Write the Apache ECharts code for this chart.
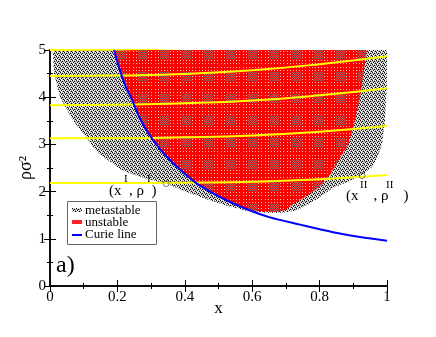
<!DOCTYPE html>
<html>
<head>
<meta charset="utf-8">
<script src="https://cdn.jsdelivr.net/npm/echarts@6/dist/echarts.min.js"></script>
<style>
  html, body { margin: 0; padding: 0; background: #fff; }
  #chart { width: 436px; height: 337px; }
</style>
</head>
<body>
<div id="chart"></div>
<script>
// outer boundary (metastable region)
var binodal = [[0.008, 5], [0.012, 4.5], [0.03, 4.0], [0.067, 3.52], [0.109, 3.13], [0.143, 2.82],
  [0.213, 2.46], [0.26, 2.33], [0.31, 2.23], [0.35, 2.16], [0.38, 2.06], [0.465, 1.84], [0.52, 1.71],
  [0.58, 1.6], [0.64, 1.55], [0.69, 1.55], [0.73, 1.6], [0.77, 1.74], [0.81, 1.93], [0.84, 2.08],
  [0.88, 2.2], [0.926, 2.34], [0.955, 2.52], [0.97, 2.7], [0.985, 3.0], [0.994, 3.5], [0.999, 4.2], [1.0, 5]];
// inner boundary (unstable region)
var spinodal = [[0.19, 5], [0.206, 4.6], [0.226, 4.2], [0.24, 4.0], [0.27, 3.5], [0.31, 3.05],
  [0.356, 2.67], [0.40, 2.38], [0.43, 2.2], [0.48, 1.98], [0.535, 1.78], [0.58, 1.64], [0.62, 1.575],
  [0.67, 1.57], [0.70, 1.61], [0.72, 1.72], [0.76, 1.9], [0.80, 2.1], [0.83, 2.35], [0.855, 2.65],
  [0.885, 3.0], [0.905, 3.5], [0.92, 4.0], [0.93, 4.5], [0.94, 5]];
var curie = [[0.19, 5], [0.206, 4.6], [0.226, 4.2], [0.24, 4.0], [0.27, 3.5], [0.31, 3.05],
  [0.356, 2.67], [0.40, 2.38], [0.43, 2.2], [0.48, 1.98], [0.535, 1.78], [0.59, 1.61], [0.65, 1.46],
  [0.742, 1.3], [0.84, 1.14], [0.92, 1.04], [1.0, 0.96]];
// yellow lines
var lineX = [0, 0.2, 0.4, 0.6, 0.8, 1];
var yel1 = [5.0, 5.01, 5.04, 5.1, 5.2, 5.35];
var yel2 = [4.45, 4.46, 4.49, 4.57, 4.7, 4.87];
var yel3 = [3.83, 3.84, 3.87, 3.93, 4.04, 4.19];
var yel4 = [3.13, 3.13, 3.15, 3.19, 3.27, 3.39];
var yel5 = [2.18, 2.18, 2.19, 2.21, 2.26, 2.35];
var coexist = [[0.345, 2.17], [0.926, 2.34]];

function makeGray() {
  var c = document.createElement('canvas');
  c.width = 4; c.height = 4;
  var ctx = c.getContext('2d');
  var rows = ['KWGW', 'GGKG', 'WKWG', 'GWGK'];
  var map = { K: '#000', W: '#fff', G: '#a8a8a8' };
  for (var y = 0; y < 4; y++) for (var x = 0; x < 4; x++) {
    ctx.fillStyle = map[rows[y][x]];
    ctx.fillRect(x, y, 1, 1);
  }
  return c;
}
function makeRed() {
  var c = document.createElement('canvas');
  c.width = 22; c.height = 22;
  var ctx = c.getContext('2d');
  ctx.fillStyle = '#ff0000';
  ctx.fillRect(0, 0, 22, 22);
  for (var y = 0; y < 22; y++) for (var x = 0; x < 22; x++) {
    var blk = x >= 6 && x < 15 && y >= 6 && y < 15;
    if (blk && (x + y) % 2 == 0) {
      ctx.fillStyle = '#a06868';
      ctx.fillRect(x, y, 1, 1);
    } else if (!blk && x % 3 == 1 && y % 3 == 1) {
      ctx.fillStyle = '#ffc0c0';
      ctx.fillRect(x, y, 1, 1);
    }
  }
  return c;
}
var grayPat = { image: makeGray(), repeat: 'repeat' };
var redPat = { image: makeRed(), repeat: 'repeat' };

function zip(xs, ys) { return xs.map(function (x, i) { return [x, ys[i]]; }); }

var serif = '"Liberation Serif", "DejaVu Serif", serif';
var chart = echarts.init(document.getElementById('chart'));

function yellow(ys) {
  return {
    type: 'line', data: zip(lineX, ys), smooth: true, symbol: 'none', z: 3,
    lineStyle: { color: '#ffff00', width: 2 }, silent: true
  };
}

var option = {
  animation: false,
  grid: { left: 50, right: 49, top: 50, bottom: 51 },
  xAxis: [{
    type: 'value', min: 0, max: 1, interval: 0.2,
    name: 'x', nameLocation: 'middle', nameGap: 14, nameMoveOverlap: false,
    nameTextStyle: { fontFamily: serif, fontSize: 17, color: '#000' },
    axisLine: { lineStyle: { color: '#000', width: 1.5 } },
    axisTick: { inside: true, length: 6, lineStyle: { color: '#000' } },
    minorTick: { show: true, splitNumber: 2, length: 3, lineStyle: { color: '#000' } },
    axisLabel: { fontFamily: serif, fontSize: 15, color: '#000', margin: 4 },
    splitLine: { show: false }
  }, {
    type: 'value', min: 0, max: 1, interval: 0.2, position: 'top',
    axisLine: { lineStyle: { color: '#000', width: 1.5 } },
    axisTick: { inside: true, length: 6, lineStyle: { color: '#000' } },
    minorTick: { show: true, splitNumber: 2, length: 3, lineStyle: { color: '#000' } },
    axisLabel: { show: false }, splitLine: { show: false }
  }],
  yAxis: [{
    type: 'value', min: 0, max: 5, interval: 1,
    name: 'ρσ²', nameLocation: 'middle', nameGap: 15, nameMoveOverlap: false,
    nameTextStyle: { fontFamily: serif, fontSize: 18, color: '#000' },
    axisLine: { lineStyle: { color: '#000', width: 1.5 } },
    axisTick: { inside: true, length: 6, lineStyle: { color: '#000' } },
    minorTick: { show: true, splitNumber: 2, length: 3, lineStyle: { color: '#000' } },
    axisLabel: { fontFamily: serif, fontSize: 15, color: '#000', margin: 4 },
    splitLine: { show: false }
  }, {
    type: 'value', min: 0, max: 5, interval: 1, position: 'right',
    axisLine: { lineStyle: { color: '#000', width: 1.5 } },
    axisTick: { inside: true, length: 6, lineStyle: { color: '#000' } },
    minorTick: { show: true, splitNumber: 2, length: 3, lineStyle: { color: '#000' } },
    axisLabel: { show: false }, splitLine: { show: false }
  }],
  series: [
    {
      type: 'custom', clip: true, z: 1, silent: true,
      data: [0, 1],
      renderItem: function (params, api) {
        var poly = params.dataIndex === 0 ? binodal : spinodal;
        var top = params.dataIndex === 0 ? [[1, 5.02], [0.008, 5.02]] : [[0.94, 5.02], [0.19, 5.02]];
        var pts = poly.concat(top).map(function (p) { return api.coord(p); });
        return {
          type: 'polygon', shape: { points: pts },
          style: { fill: params.dataIndex === 0 ? grayPat : redPat }
        };
      }
    },
    yellow(yel1), yellow(yel2), yellow(yel3), yellow(yel4), yellow(yel5),
    {
      type: 'line', data: curie, smooth: 0.3, symbol: 'none', z: 4, silent: true,
      lineStyle: { color: '#0000ff', width: 2 }
    },
    {
      type: 'scatter', data: coexist, symbol: 'circle', symbolSize: 6, z: 5, silent: true,
      itemStyle: { color: 'rgba(0,0,0,0)', borderColor: '#555', borderWidth: 1 }
    }
  ],
  graphic: [
    { type: 'rect', shape: { x: 67.5, y: 201.5, width: 89, height: 43 }, z: 10,
      style: { fill: '#fff', stroke: '#666', lineWidth: 1 } },
    { type: 'rect', shape: { x: 72, y: 208, width: 10, height: 4 }, z: 11, style: { fill: grayPat } },
    { type: 'rect', shape: { x: 72, y: 220, width: 10, height: 4 }, z: 11, style: { fill: '#ff2020' } },
    { type: 'line', shape: { x1: 72, y1: 235, x2: 82, y2: 235 }, z: 11, style: { stroke: '#0000ff', lineWidth: 2 } },
    { type: 'text', x: 85, y: 210.5, z: 11, style: { text: 'metastable', font: '13px ' + serif, fill: '#000', verticalAlign: 'middle' } },
    { type: 'text', x: 85, y: 222.5, z: 11, style: { text: 'unstable', font: '13px ' + serif, fill: '#000', verticalAlign: 'middle' } },
    { type: 'text', x: 85, y: 235, z: 11, style: { text: 'Curie line', font: '13px ' + serif, fill: '#000', verticalAlign: 'middle' } },
    { type: 'text', x: 56, y: 266, z: 11, style: { text: 'a)', font: '24px ' + serif, fill: '#000', verticalAlign: 'middle' } },
    // (x^I, rho^I)
    { type: 'text', x: 109, y: 191, z: 11, style: { text: '(x  , ρ  )', font: '15px ' + serif, fill: '#000', verticalAlign: 'middle' } },
    { type: 'text', x: 124, y: 179, z: 11, style: { text: 'I', font: '11px ' + serif, fill: '#000', verticalAlign: 'middle' } },
    { type: 'text', x: 147, y: 179, z: 11, style: { text: 'I', font: '11px ' + serif, fill: '#000', verticalAlign: 'middle' } },
    // (x^II, rho^II)
    { type: 'text', x: 346, y: 196, z: 11, style: { text: '(x    , ρ    )', font: '15px ' + serif, fill: '#000', verticalAlign: 'middle' } },
    { type: 'text', x: 360, y: 185, z: 11, style: { text: 'II', font: '11px ' + serif, fill: '#000', verticalAlign: 'middle' } },
    { type: 'text', x: 386, y: 185, z: 11, style: { text: 'II', font: '11px ' + serif, fill: '#000', verticalAlign: 'middle' } }
  ]
};
chart.setOption(option);
</script>
</body>
</html>
